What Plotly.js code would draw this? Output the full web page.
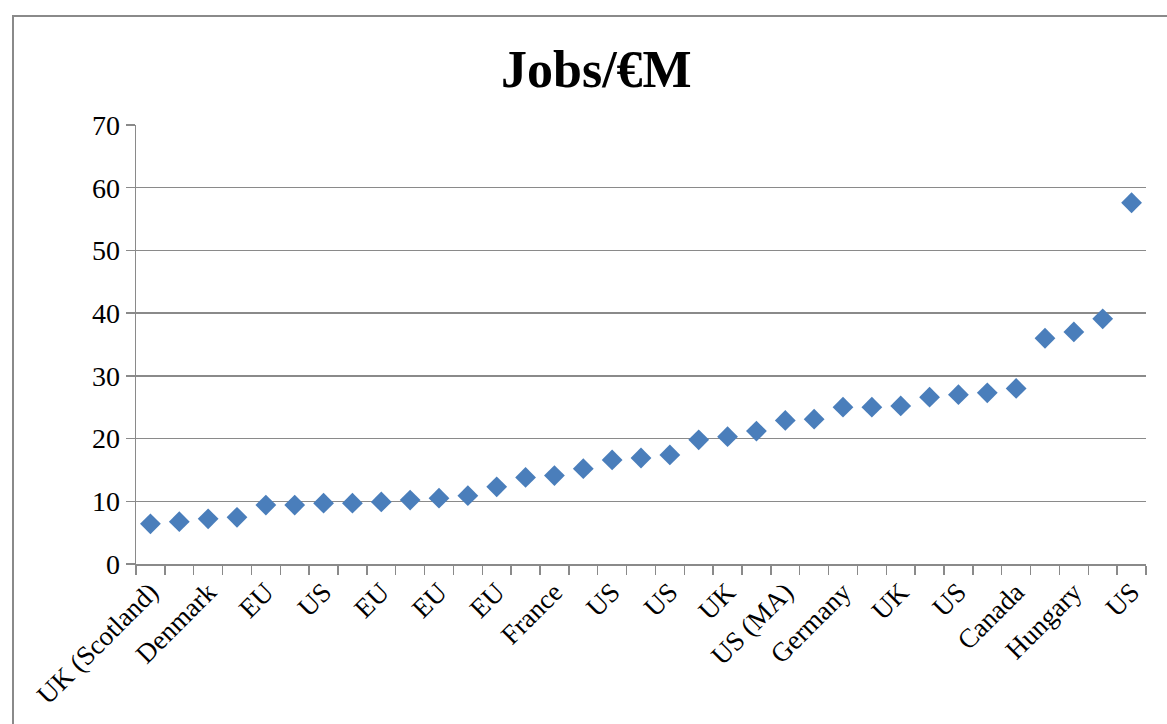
<!DOCTYPE html>
<html>
<head>
<meta charset="utf-8">
<script src="https://cdn.plot.ly/plotly-3.0.1.min.js"></script>
<style>
  html, body { margin:0; padding:0; background:#fff; overflow:hidden; }
  #frame { position:absolute; left:12px; top:15px; width:1300px; height:900px;
           border-left:2px solid #8a8a8a; border-top:2px solid #8a8a8a; box-sizing:border-box; }
  #chart { position:absolute; left:0; top:0; width:1167px; height:724px; }
</style>
</head>
<body>
<div id="frame"></div>
<div id="chart"></div>
<script>
// Visible category labels (every other category is labelled)
const labels = ["UK (Scotland)", "Denmark", "EU", "US", "EU", "EU", "EU", "France", "US",
                "US", "UK", "US (MA)", "Germany", "UK", "US", "Canada", "Hungary", "US"];
// Jobs per €M, in plotted order (35 studies)
const jobsPerMillion = [6.4, 6.75, 7.2, 7.45, 9.4, 9.4, 9.7, 9.7, 9.9, 10.2,
                        10.5, 10.9, 12.3, 13.8, 14.1, 15.2, 16.6, 16.9, 17.4, 19.8,
                        20.3, 21.2, 22.9, 23.1, 25.0, 25.0, 25.2, 26.6, 27.0, 27.3,
                        28.0, 36.0, 37.0, 39.1, 57.6];
const yTicks = [0, 10, 20, 30, 40, 50, 60, 70];

const xIdx = jobsPerMillion.map((_, i) => i + 1);
const labelPos = labels.map((_, i) => 2 * i + 1);
const boundaries = [];
for (let i = 0; i <= jobsPerMillion.length; i++) boundaries.push(i + 0.5);

const serif = "Liberation Serif, Times New Roman, serif";
const grey = "#8a8a8a";

const trace = {
  type: "scatter", mode: "markers",
  x: xIdx, y: jobsPerMillion,
  marker: { symbol: "diamond", size: 16, color: "#4a7ebb", line: { width: 0 } },
  hoverinfo: "y"
};

const layout = {
  width: 1167, height: 724,
  paper_bgcolor: "rgba(0,0,0,0)", plot_bgcolor: "rgba(0,0,0,0)",
  margin: { l: 136, r: 21, t: 125, b: 160 },
  showlegend: false,
  title: { text: "<b>Jobs/€M</b>", font: { family: serif, size: 52, color: "#000" },
           x: 0.511, xanchor: "center", xref: "container", y: 0.905, yanchor: "middle" },
  xaxis: {
    range: [0.5, jobsPerMillion.length + 0.5],
    tickmode: "array", tickvals: labelPos, ticktext: labels,
    tickangle: -45, ticks: "outside", ticklen: 0, tickcolor: grey,
    tickfont: { family: serif, size: 27, color: "#000" },
    showgrid: false, zeroline: false,
    showline: true, linecolor: grey, linewidth: 1.5,
    minor: { tickmode: "array", tickvals: boundaries, ticks: "outside", ticklen: 9,
             tickcolor: grey, tickwidth: 1.5, showgrid: false },
    fixedrange: true
  },
  yaxis: {
    range: [0, 70], tickmode: "array", tickvals: yTicks,
    ticks: "outside", ticklen: 9, tickcolor: grey, tickwidth: 1.5,
    tickfont: { family: serif, size: 28, color: "#000" },
    showgrid: true, gridcolor: grey, gridwidth: 1.5,
    zeroline: false, showline: true, linecolor: grey, linewidth: 1.5,
    fixedrange: true
  }
};

Plotly.newPlot("chart", [trace], layout, { displayModeBar: false, staticPlot: true });
</script>
</body>
</html>
